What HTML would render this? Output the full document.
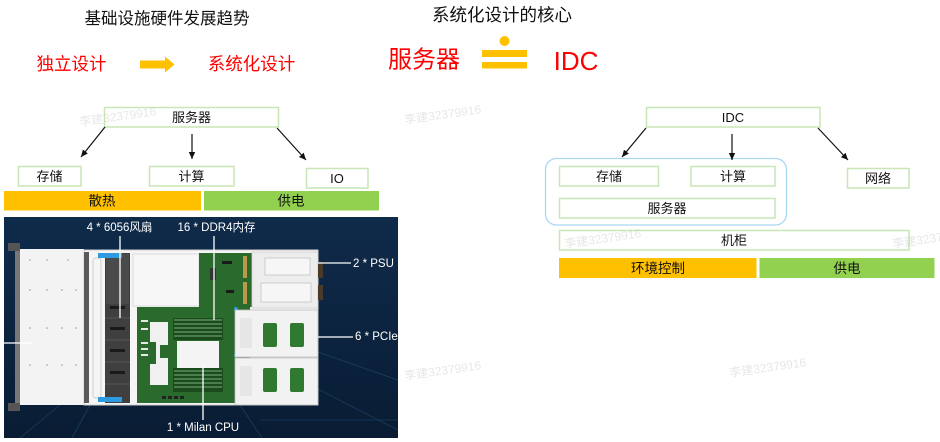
<!DOCTYPE html>
<html><head><meta charset="utf-8">
<style>
html,body{margin:0;padding:0;background:#fff;}
svg{display:block;}
text{font-family:"Liberation Sans","Noto Sans CJK SC",sans-serif;}
</style></head>
<body>
<svg width="940" height="442" viewBox="0 0 940 442" xmlns="http://www.w3.org/2000/svg">
<defs>
<marker id="ah" markerWidth="8" markerHeight="8" refX="7" refY="4" orient="auto" markerUnits="userSpaceOnUse">
<path d="M0,0.8 L7,4 L0,7.2 Z" fill="#111"/>
</marker>
<linearGradient id="bg" x1="0" y1="0" x2="0" y2="1">
<stop offset="0" stop-color="#0f2b4a"/>
<stop offset="1" stop-color="#091c34"/>
</linearGradient>
</defs>

<!-- top-left titles -->
<text x="167" y="19" font-size="16.5" text-anchor="middle" dominant-baseline="central" fill="#111">基础设施硬件发展趋势</text>
<text x="71.5" y="64" font-size="17.5" text-anchor="middle" dominant-baseline="central" fill="#ff0000">独立设计</text>
<text x="251.5" y="64" font-size="17.5" text-anchor="middle" dominant-baseline="central" fill="#ff0000">系统化设计</text>
<path d="M140,60.5 H165 V56.5 L174.5,64.5 L165,72.5 V68.5 H140 Z" fill="#ffc000"/>

<!-- top-center -->
<text x="502" y="15" font-size="17.5" text-anchor="middle" dominant-baseline="central" fill="#111">系统化设计的核心</text>
<text x="424" y="60" font-size="24" text-anchor="middle" dominant-baseline="central" fill="#ff0000">服务器</text>
<circle cx="504.5" cy="41" r="5" fill="#ffc000"/>
<rect x="482" y="50" width="45" height="7" fill="#ffc000"/>
<rect x="482" y="62" width="45" height="6.5" fill="#ffc000"/>
<text x="576" y="61" font-size="26" text-anchor="middle" dominant-baseline="central" fill="#ff0000">IDC</text>

<!-- left diagram -->
<g fill="#fff" stroke="#c8e6b6" stroke-width="1.5">
<rect x="104.5" y="107.5" width="174" height="19.5"/>
<rect x="18.5" y="166.5" width="62.5" height="19.5"/>
<rect x="149.5" y="166.5" width="84.5" height="19.5"/>
<rect x="306.5" y="168.5" width="61.5" height="19.5"/>
</g>
<g font-size="13" fill="#111" text-anchor="middle" dominant-baseline="central">
<text x="191.5" y="117.5">服务器</text>
<text x="49.5" y="176.5">存储</text>
<text x="191.5" y="176.5">计算</text>
<text x="337" y="178.5">IO</text>
</g>
<g stroke="#111" stroke-width="1.2" marker-end="url(#ah)">
<line x1="105" y1="127" x2="81" y2="157"/>
<line x1="192" y1="134" x2="192" y2="159"/>
<line x1="277" y1="128" x2="306" y2="160"/>
</g>
<rect x="4" y="191" width="197" height="19.5" fill="#ffc000"/>
<rect x="204" y="191" width="175" height="19.5" fill="#92d050"/>
<text x="102" y="201" font-size="13.5" text-anchor="middle" dominant-baseline="central" fill="#111">散热</text>
<text x="291" y="201" font-size="13.5" text-anchor="middle" dominant-baseline="central" fill="#111">供电</text>

<!-- right diagram -->
<rect x="545.5" y="158.5" width="241" height="66.5" rx="11" fill="none" stroke="#a8d8f2" stroke-width="1.3"/>
<g fill="#fff" stroke="#c8e6b6" stroke-width="1.5">
<rect x="646.5" y="107.5" width="173.5" height="19.5"/>
<rect x="559.5" y="166.5" width="99" height="19.5"/>
<rect x="691" y="166.5" width="84" height="19.5"/>
<rect x="559.5" y="198.5" width="215.5" height="19.5"/>
<rect x="847.5" y="168.5" width="61.5" height="19.5"/>
<rect x="559.5" y="230.5" width="349.5" height="19.5"/>
</g>
<rect x="559" y="258" width="197.5" height="20" fill="#ffc000"/>
<rect x="759.5" y="258" width="175" height="20" fill="#92d050"/>
<g font-size="13" fill="#111" text-anchor="middle" dominant-baseline="central">
<text x="733" y="117.5">IDC</text>
<text x="609" y="176.5">存储</text>
<text x="733" y="176.5">计算</text>
<text x="667" y="208.5">服务器</text>
<text x="878" y="178.5">网络</text>
<text x="734" y="240.5">机柜</text>
<text x="658" y="268.5" font-size="13.5">环境控制</text>
<text x="847" y="268.5" font-size="13.5">供电</text>
</g>
<g stroke="#111" stroke-width="1.2" marker-end="url(#ah)">
<line x1="646" y1="128" x2="622" y2="157"/>
<line x1="732" y1="134" x2="732" y2="160"/>
<line x1="818" y1="128" x2="848" y2="160"/>
</g>

<!-- server photo -->
<rect x="4" y="217" width="394" height="221" fill="url(#bg)"/>
<g stroke="#24527a" stroke-width="0.8" opacity="0.6" fill="none">
<line x1="60" y1="405" x2="20" y2="438"/>
<line x1="90" y1="405" x2="72" y2="438"/>
<line x1="240" y1="405" x2="262" y2="438"/>
<line x1="300" y1="380" x2="398" y2="430"/>
<line x1="318" y1="352" x2="398" y2="380"/>
<line x1="260" y1="420" x2="398" y2="420"/>
</g>
<rect x="8" y="243" width="12" height="8" fill="#555"/>
<rect x="8" y="403" width="12" height="8" fill="#555"/>
<rect x="15" y="251" width="5" height="152" fill="#777"/>
<rect x="20" y="249" width="64" height="156" fill="#f3f3f3"/>
<g fill="#999">
<circle cx="30" cy="260" r="0.8"/><circle cx="47" cy="260" r="0.8"/><circle cx="68" cy="260" r="0.8"/>
<circle cx="30" cy="290" r="0.8"/><circle cx="47" cy="290" r="0.8"/><circle cx="62" cy="290" r="0.8"/><circle cx="76" cy="290" r="0.8"/>
<circle cx="30" cy="328" r="0.8"/><circle cx="47" cy="328" r="0.8"/><circle cx="62" cy="328" r="0.8"/><circle cx="76" cy="328" r="0.8"/>
<circle cx="30" cy="365" r="0.8"/><circle cx="47" cy="365" r="0.8"/><circle cx="62" cy="365" r="0.8"/><circle cx="76" cy="365" r="0.8"/>
</g>
<rect x="84" y="250" width="234" height="155" fill="#f5f5f5" stroke="#d0d0d0" stroke-width="1"/>
<rect x="84" y="252" width="5" height="151" fill="#5a5a5a"/>
<rect x="93" y="258" width="8" height="140" fill="none" stroke="#cfcfcf" stroke-width="1" rx="3"/>
<rect x="105" y="253" width="25" height="150" fill="#3f3f3f"/>
<rect x="106" y="254" width="23" height="50" fill="#4a4a4a"/>
<g fill="#1a1a1a">
<rect x="110" y="306" width="15" height="3"/>
<rect x="110" y="327" width="15" height="3"/>
<rect x="110" y="349" width="15" height="3"/>
<rect x="110" y="371" width="15" height="3"/>
</g>
<g stroke="#555" stroke-width="1">
<line x1="105" y1="318" x2="130" y2="318"/>
<line x1="105" y1="340" x2="130" y2="340"/>
<line x1="105" y1="362" x2="130" y2="362"/>
<line x1="105" y1="384" x2="130" y2="384"/>
</g>
<rect x="98" y="253" width="24" height="5" fill="#2e9be0"/>
<rect x="98" y="397" width="24" height="5" fill="#2e9be0"/>
<rect x="133" y="254" width="66" height="52" fill="#f7f7f7" stroke="#d4d4d4" stroke-width="0.8"/>
<rect x="199" y="253" width="53" height="54" fill="#2b6a2d"/>
<rect x="210" y="268" width="6" height="12" fill="#333"/>
<rect x="222" y="261" width="10" height="3" fill="#1a1a1a"/>
<rect x="226" y="290" width="8" height="3" fill="#1a1a1a"/>
<rect x="243" y="256" width="4" height="22" fill="#b89a4a"/>
<rect x="243" y="282" width="4" height="22" fill="#b89a4a"/>
<rect x="137" y="307" width="113" height="96" fill="#2a6a2c"/>
<path d="M150,322 H168 V345 H160 V358 H168 V385 H150 V364 H156 V342 H150 Z" fill="#f0f0f0"/>
<g fill="#e8e8e8">
<rect x="141" y="320" width="7" height="2"/><rect x="141" y="328" width="7" height="2"/>
<rect x="141" y="342" width="7" height="2"/><rect x="141" y="348" width="7" height="2"/><rect x="141" y="354" width="7" height="2"/>
</g>
<g fill="#1b4a1d"><rect x="173" y="318" width="50" height="22"/><rect x="173" y="368" width="50" height="24"/></g>
<g stroke="#7ab07a" stroke-width="1">
<line x1="174" y1="320" x2="222" y2="320"/><line x1="174" y1="324" x2="222" y2="324"/><line x1="174" y1="328" x2="222" y2="328"/>
<line x1="174" y1="332" x2="222" y2="332"/><line x1="174" y1="336" x2="222" y2="336"/>
<line x1="174" y1="371" x2="222" y2="371"/><line x1="174" y1="375" x2="222" y2="375"/><line x1="174" y1="379" x2="222" y2="379"/>
<line x1="174" y1="383" x2="222" y2="383"/><line x1="174" y1="387" x2="222" y2="387"/>
</g>
<rect x="177" y="341" width="42" height="27" fill="#f4f4f4"/>
<g fill="#222"><rect x="162" y="396" width="4" height="3"/><rect x="168" y="396" width="4" height="3"/><rect x="174" y="396" width="4" height="3"/><rect x="180" y="396" width="4" height="3"/></g>
<circle cx="236" cy="309" r="2" fill="#2e9be0"/>
<circle cx="236" cy="355" r="2" fill="#2e9be0"/>
<rect x="252" y="252" width="66" height="56" fill="#ededed" stroke="#cfcfcf" stroke-width="0.8"/>
<rect x="265" y="258" width="45" height="17" fill="#f6f6f6" stroke="#c4c4c4" stroke-width="0.8"/>
<rect x="261" y="283" width="50" height="19" fill="#f6f6f6" stroke="#c4c4c4" stroke-width="0.8"/>
<rect x="318" y="262" width="5" height="16" fill="#4a3a2a"/>
<rect x="318" y="285" width="5" height="15" fill="#4a3a2a"/>
<rect x="235" y="310" width="83" height="47" fill="#f2f2f2" stroke="#bdbdbd" stroke-width="0.8"/>
<rect x="235" y="358" width="83" height="47" fill="#f2f2f2" stroke="#bdbdbd" stroke-width="0.8"/>
<rect x="240" y="318" width="12" height="30" fill="#e6e6e6"/>
<rect x="240" y="366" width="12" height="30" fill="#e6e6e6"/>
<g fill="#2f7a30">
<rect x="263" y="323" width="14" height="24" rx="2"/><rect x="290" y="323" width="14" height="24" rx="2"/>
<rect x="263" y="368" width="14" height="24" rx="2"/><rect x="290" y="368" width="14" height="24" rx="2"/>
</g>
<g stroke="#fff" stroke-width="1.3">
<line x1="120" y1="236" x2="120" y2="318"/>
<line x1="214" y1="236" x2="214" y2="320"/>
<line x1="203" y1="366" x2="203" y2="420"/>
<line x1="318" y1="263" x2="351" y2="263"/>
<line x1="318" y1="337" x2="353" y2="337"/>
<line x1="4" y1="343" x2="33" y2="343"/>
</g>
<g fill="#fff" font-size="11.5" dominant-baseline="central">
<text x="119.5" y="228" text-anchor="middle">4 * 6056风扇</text>
<text x="216.5" y="228" text-anchor="middle">16 * DDR4内存</text>
<text x="353" y="264">2 * PSU</text>
<text x="355" y="337">6 * PCIe</text>
<text x="203" y="428" text-anchor="middle">1 * Milan CPU</text>
</g>

<!-- watermarks (on top, translucent) -->
<g fill="#b0b0b0" fill-opacity="0.3" font-size="12">
<text x="80" y="126" transform="rotate(-8 80 126)">李建32379916</text>
<text x="405" y="124" transform="rotate(-8 405 124)">李建32379916</text>
<text x="565" y="248" transform="rotate(-8 565 248)">李建32379916</text>
<text x="893" y="248" transform="rotate(-8 893 248)">李建32379916</text>
<text x="730" y="377" transform="rotate(-8 730 377)">李建32379916</text>
<text x="405" y="380" transform="rotate(-8 405 380)">李建32379916</text>
</g>
</svg>
</body></html>
